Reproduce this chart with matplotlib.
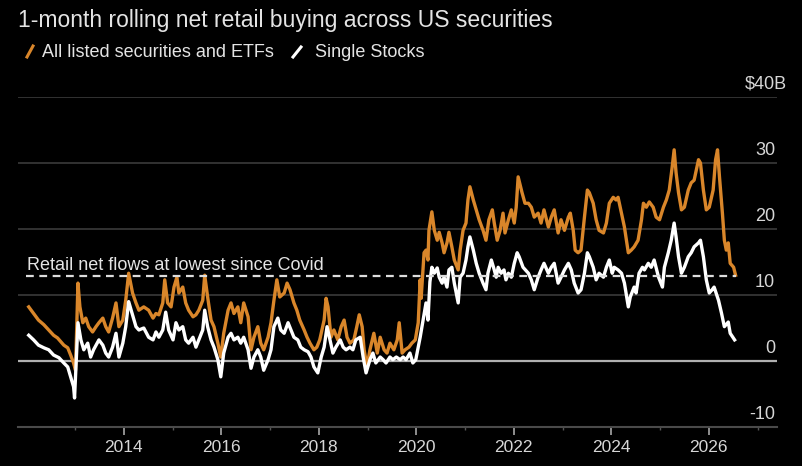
import matplotlib.pyplot as plt
from matplotlib.lines import Line2D

# 1-month rolling net retail buying, $B
all_years = [2012.05, 2012.15, 2012.25, 2012.36, 2012.46, 2012.56, 2012.64, 2012.71, 2012.77, 2012.85,
             2012.91, 2012.97, 2013.01, 2013.06, 2013.10, 2013.16, 2013.22, 2013.28, 2013.36, 2013.43,
             2013.49, 2013.57, 2013.63, 2013.69, 2013.77, 2013.84, 2013.90, 2013.98, 2014.04, 2014.10,
             2014.18, 2014.25, 2014.31, 2014.41, 2014.51, 2014.60, 2014.66, 2014.72, 2014.80, 2014.84,
             2014.90, 2014.97, 2015.03, 2015.09, 2015.13, 2015.21, 2015.27, 2015.33, 2015.42, 2015.48,
             2015.54, 2015.62, 2015.66, 2015.72, 2015.79, 2015.85, 2015.93, 2015.99, 2016.05, 2016.14,
             2016.20, 2016.26, 2016.34, 2016.40, 2016.46, 2016.55, 2016.61, 2016.67, 2016.75, 2016.81,
             2016.87, 2016.96, 2017.02, 2017.08, 2017.14, 2017.20, 2017.29, 2017.35, 2017.41, 2017.49,
             2017.55, 2017.61, 2017.70, 2017.76, 2017.82, 2017.90, 2017.96, 2018.02, 2018.11, 2018.15,
             2018.19, 2018.25, 2018.31, 2018.39, 2018.46, 2018.52, 2018.58, 2018.64, 2018.72, 2018.78,
             2018.83, 2018.89, 2018.93, 2018.99, 2019.05, 2019.13, 2019.20, 2019.26, 2019.34, 2019.40,
             2019.46, 2019.54, 2019.61, 2019.65, 2019.71, 2019.77, 2019.85, 2019.91, 2019.98, 2020.04,
             2020.08, 2020.10, 2020.14, 2020.16, 2020.20, 2020.24, 2020.26, 2020.32, 2020.37, 2020.43,
             2020.47, 2020.53, 2020.57, 2020.63, 2020.67, 2020.73, 2020.78, 2020.86, 2020.90, 2020.96,
             2021.02, 2021.06, 2021.10, 2021.17, 2021.23, 2021.29, 2021.37, 2021.43, 2021.49, 2021.56,
             2021.60, 2021.66, 2021.72, 2021.78, 2021.82, 2021.89, 2021.95, 2022.01, 2022.05, 2022.09,
             2022.17, 2022.23, 2022.30, 2022.36, 2022.42, 2022.50, 2022.56, 2022.62, 2022.71, 2022.77,
             2022.83, 2022.91, 2022.97, 2023.04, 2023.12, 2023.16, 2023.22, 2023.26, 2023.32, 2023.38,
             2023.45, 2023.51, 2023.55, 2023.63, 2023.69, 2023.75, 2023.84, 2023.90, 2023.96, 2024.04,
             2024.10, 2024.14, 2024.21, 2024.27, 2024.31, 2024.35, 2024.41, 2024.47, 2024.55, 2024.62,
             2024.66, 2024.72, 2024.78, 2024.86, 2024.92, 2024.99, 2025.07, 2025.13, 2025.19, 2025.25,
             2025.29, 2025.33, 2025.38, 2025.44, 2025.50, 2025.58, 2025.64, 2025.70, 2025.79, 2025.83,
             2025.89, 2025.95, 2026.01, 2026.09, 2026.14, 2026.18, 2026.22, 2026.28, 2026.32, 2026.36,
             2026.40, 2026.44, 2026.51, 2026.55]
all_vals = [8.2, 7.2, 6.2, 5.5, 4.7, 3.9, 3.5, 2.9, 2.4, 2.0,
            0.9, -0.3, -1.4, 11.8, 8.2, 5.8, 6.5, 5.2, 4.4, 5.2,
            5.8, 6.5, 5.2, 4.4, 6.5, 8.8, 5.2, 6.2, 9.2, 13.3,
            10.3, 8.8, 7.7, 8.2, 7.7, 6.5, 7.2, 7.0, 8.8, 12.3,
            8.8, 8.2, 11.2, 12.7, 10.3, 11.2, 8.8, 7.7, 6.7, 7.0,
            7.7, 9.2, 13.0, 9.7, 6.2, 5.2, 2.7, 0.6, 4.2, 7.7,
            8.8, 7.2, 8.2, 5.8, 8.8, 6.7, 1.7, 3.6, 5.2, 2.7,
            1.7, 3.6, 5.8, 9.2, 12.3, 9.7, 10.3, 11.8, 10.8, 8.8,
            7.7, 6.2, 4.7, 3.6, 2.7, 1.7, 2.1, 3.2, 6.2, 9.5,
            8.2, 3.6, 4.7, 3.2, 5.2, 6.2, 3.6, 2.7, 3.2, 5.2,
            7.0, 5.2, 1.7, -0.9, 1.7, 4.2, 1.2, 3.6, 1.7, 1.2,
            2.7, 1.7, 3.2, 5.8, 1.2, 1.7, 2.1, 2.7, 3.2, 5.8,
            12.3, 9.5, 14.0, 16.4, 16.8, 15.3, 19.8, 22.6, 19.8, 18.3,
            19.5, 17.9, 16.4, 17.9, 19.5, 17.3, 15.3, 13.8, 16.8, 19.8,
            20.9, 24.4, 26.4, 24.4, 22.9, 21.4, 19.8, 18.3, 21.4, 22.9,
            20.9, 18.3, 19.8, 22.4, 19.4, 21.4, 22.9, 20.9, 23.3, 27.9,
            25.5, 23.9, 23.9, 23.3, 21.8, 22.4, 20.9, 22.9, 20.3, 21.8,
            22.9, 19.4, 21.4, 19.8, 21.8, 22.4, 19.8, 16.8, 16.4, 16.8,
            21.8, 25.9, 25.5, 23.9, 21.4, 19.8, 19.4, 20.9, 23.9, 24.8,
            24.4, 24.8, 22.4, 20.3, 18.3, 16.4, 16.8, 17.3, 18.3, 21.4,
            23.9, 23.3, 24.1, 23.3, 21.8, 21.4, 23.3, 24.4, 25.9, 29.4,
            32.0, 28.5, 25.5, 22.9, 23.3, 25.9, 27.0, 27.4, 30.5, 30.0,
            25.9, 22.9, 23.3, 25.9, 30.5, 32.0, 27.9, 22.4, 18.3, 16.8,
            17.9, 14.8, 14.2, 13.0]

single_years = [2012.05, 2012.15, 2012.25, 2012.36, 2012.46, 2012.56, 2012.67, 2012.77, 2012.85, 2012.91,
                2012.97, 2012.99, 2013.06, 2013.12, 2013.18, 2013.26, 2013.32, 2013.38, 2013.49, 2013.57,
                2013.63, 2013.69, 2013.77, 2013.84, 2013.90, 2013.98, 2014.04, 2014.10, 2014.18, 2014.25,
                2014.31, 2014.41, 2014.51, 2014.60, 2014.66, 2014.72, 2014.80, 2014.86, 2014.92, 2015.01,
                2015.07, 2015.13, 2015.21, 2015.27, 2015.33, 2015.42, 2015.48, 2015.54, 2015.62, 2015.66,
                2015.72, 2015.79, 2015.85, 2015.93, 2015.99, 2016.05, 2016.14, 2016.20, 2016.26, 2016.34,
                2016.40, 2016.46, 2016.55, 2016.61, 2016.67, 2016.75, 2016.81, 2016.87, 2016.96, 2017.02,
                2017.08, 2017.16, 2017.22, 2017.29, 2017.37, 2017.43, 2017.49, 2017.57, 2017.63, 2017.70,
                2017.78, 2017.84, 2017.90, 2017.98, 2018.05, 2018.11, 2018.17, 2018.23, 2018.29, 2018.35,
                2018.44, 2018.50, 2018.56, 2018.64, 2018.70, 2018.76, 2018.85, 2018.91, 2018.97, 2019.05,
                2019.11, 2019.17, 2019.26, 2019.32, 2019.38, 2019.46, 2019.52, 2019.59, 2019.67, 2019.73,
                2019.79, 2019.87, 2019.93, 2019.99, 2020.08, 2020.14, 2020.20, 2020.24, 2020.28, 2020.32,
                2020.37, 2020.43, 2020.47, 2020.53, 2020.57, 2020.63, 2020.67, 2020.73, 2020.78, 2020.86,
                2020.90, 2020.96, 2021.02, 2021.06, 2021.10, 2021.17, 2021.23, 2021.29, 2021.37, 2021.43,
                2021.47, 2021.54, 2021.60, 2021.64, 2021.68, 2021.74, 2021.80, 2021.84, 2021.89, 2021.95,
                2022.01, 2022.07, 2022.11, 2022.19, 2022.30, 2022.36, 2022.42, 2022.50, 2022.56, 2022.62,
                2022.71, 2022.77, 2022.83, 2022.91, 2022.97, 2023.04, 2023.12, 2023.18, 2023.24, 2023.32,
                2023.38, 2023.45, 2023.51, 2023.55, 2023.63, 2023.69, 2023.75, 2023.84, 2023.90, 2023.96,
                2024.02, 2024.06, 2024.14, 2024.21, 2024.27, 2024.35, 2024.39, 2024.47, 2024.51, 2024.57,
                2024.64, 2024.68, 2024.76, 2024.82, 2024.88, 2024.97, 2025.05, 2025.09, 2025.17, 2025.23,
                2025.29, 2025.33, 2025.38, 2025.44, 2025.50, 2025.58, 2025.64, 2025.70, 2025.79, 2025.83,
                2025.89, 2025.95, 2026.01, 2026.07, 2026.11, 2026.20, 2026.26, 2026.32, 2026.40, 2026.44,
                2026.53]
single_vals = [3.9, 3.2, 2.4, 2.0, 1.7, 0.9, 0.5, -0.3, -0.9, -2.4,
               -3.9, -5.6, 5.8, 3.2, 1.7, 2.7, 0.6, 1.7, 3.2, 2.4,
               1.2, 0.6, 2.1, 4.2, 0.6, 2.7, 5.2, 9.0, 7.0, 5.2,
               4.7, 5.0, 3.6, 3.2, 4.4, 3.6, 4.7, 7.4, 4.7, 3.2,
               5.8, 4.7, 5.2, 3.2, 2.7, 3.6, 2.1, 3.2, 4.7, 7.7,
               5.2, 3.2, 2.1, 0.2, -2.4, 1.2, 3.6, 4.2, 3.2, 3.6,
               2.7, 3.6, 1.7, -1.1, 0.6, 1.7, 0.6, -1.4, 0.2, 1.7,
               5.2, 6.5, 4.7, 4.2, 5.8, 4.7, 3.6, 3.2, 2.1, 1.7,
               1.4, 0.6, -0.9, -1.8, 0.6, 2.1, 5.2, 3.2, 1.2, 2.1,
               3.2, 2.1, 1.7, 2.1, 1.7, 3.2, 3.6, 0.6, -1.8, 0.2,
               1.2, -0.3, 0.6, 0.2, -0.3, 0.6, 0.2, 0.6, 0.2, 0.6,
               0.2, 1.2, -0.3, 0.2, 3.6, 6.2, 8.8, 6.2, 12.0, 14.2,
               13.3, 14.1, 12.7, 11.8, 12.7, 11.2, 13.8, 14.2, 11.8, 8.8,
               12.7, 13.3, 15.3, 17.3, 18.8, 16.8, 14.8, 13.3, 11.8, 10.8,
               13.3, 15.3, 13.8, 12.7, 14.2, 13.3, 13.8, 12.3, 13.3, 12.7,
               14.8, 16.4, 15.8, 14.2, 13.3, 12.3, 10.8, 12.7, 13.8, 14.8,
               13.3, 14.2, 14.8, 11.8, 12.7, 13.8, 14.8, 13.8, 11.8, 10.3,
               10.8, 13.3, 16.4, 15.8, 14.2, 12.3, 13.3, 12.7, 14.2, 15.3,
               13.3, 14.2, 13.8, 13.3, 11.8, 8.2, 9.7, 11.2, 10.3, 13.3,
               14.2, 13.8, 14.8, 14.2, 15.3, 12.7, 11.2, 14.2, 16.4, 18.3,
               20.9, 18.8, 15.8, 13.3, 14.2, 15.8, 16.4, 17.3, 17.9, 18.3,
               15.8, 12.3, 10.3, 10.8, 11.2, 9.2, 7.3, 5.2, 5.9, 4.2,
               3.2]

covid_level = 12.9
covid_start = 2012.0
year_ticks = [2014, 2016, 2018, 2020, 2022, 2024, 2026]
minor_years = [2013, 2015, 2017, 2019, 2021, 2023, 2025, 2027]
y_ticks = [-10, 0, 10, 20, 30, 40]
y_labels = ['-10', '0', '10', '20', '30', '$40B']

ORANGE = '#d9862a'
WHITE = '#ffffff'
TEXT = '#e4e4e4'

plt.rcParams['font.family'] = ['Liberation Sans', 'DejaVu Sans']

W, H = 803, 466


def px(x, y):
    return x / W, 1 - y / H


fig = plt.figure(figsize=(W / 100, H / 100), dpi=100, facecolor='black')
ax = fig.add_axes([18 / W, 1 - 427 / H, 759 / W, 330 / H])
ax.set_facecolor('black')

ax.set_xlim(2011.83, 2027.4)
ax.set_ylim(-10, 40)

# gridlines
for v in y_ticks[2:]:
    ax.axhline(v, color='#3a3a3a', lw=1.2, zorder=1)
ax.axhline(0, color='#b0b0b0', lw=1.6, zorder=2)

ax.plot(all_years, all_vals, color=ORANGE, lw=2.4, zorder=3, solid_joinstyle='round')
ax.plot(single_years, single_vals, color=WHITE, lw=2.4, zorder=4, solid_joinstyle='round')

ax.hlines(covid_level, covid_start, all_years[-1], colors='#dddddd', lw=1.6,
          linestyles=(0, (3.5, 2.5)), zorder=5)
ax.annotate('Retail net flows at lowest since Covid', (2012.02, covid_level),
            xytext=(0, 4.5), textcoords='offset points', va='baseline', ha='left',
            fontsize=13, color=TEXT)

# right-hand value labels, above each gridline
ytr = ax.get_yaxis_transform()
for v, lab in zip(y_ticks, y_labels):
    xpos = 1.0132 if lab.endswith('B') else 0.9974
    ax.annotate(lab, (xpos, v), xycoords=ytr, xytext=(0, 9), textcoords='offset points',
                ha='right', va='center', fontsize=13, color='#d6d6d6', annotation_clip=False)

ax.set_yticks([])
ax.set_xticks(year_ticks)
ax.set_xticklabels([str(y) for y in year_ticks])
ax.set_xticks(minor_years, minor=True)
ax.tick_params(axis='x', which='major', length=6, width=1.2, color='#a8a8a8',
               labelsize=12.5, labelcolor='#d6d6d6', pad=3.5)
ax.tick_params(axis='x', which='minor', length=2, width=1, color='#555555')
for s in ['top', 'left', 'right']:
    ax.spines[s].set_visible(False)
ax.spines['bottom'].set_color('#4a4a4a')
ax.spines['bottom'].set_linewidth(1.5)

# title and legend
fig.text(*px(18, 27), '1-month rolling net retail buying across US securities',
         fontsize=16.5, color=TEXT, va='baseline', ha='left')
fig.add_artist(Line2D([27 / W, 33 / W], [1 - 57 / H, 1 - 46 / H], color=ORANGE, lw=2.2))
fig.text(*px(42, 57), 'All listed securities and ETFs', fontsize=13, color=TEXT,
         va='baseline', ha='left')
fig.add_artist(Line2D([293 / W, 301 / W], [1 - 57 / H, 1 - 47 / H], color=WHITE, lw=2.2))
fig.text(*px(315, 57), 'Single Stocks', fontsize=13, color=TEXT, va='baseline', ha='left')

fig.savefig('out.png', dpi=100, facecolor='black')
